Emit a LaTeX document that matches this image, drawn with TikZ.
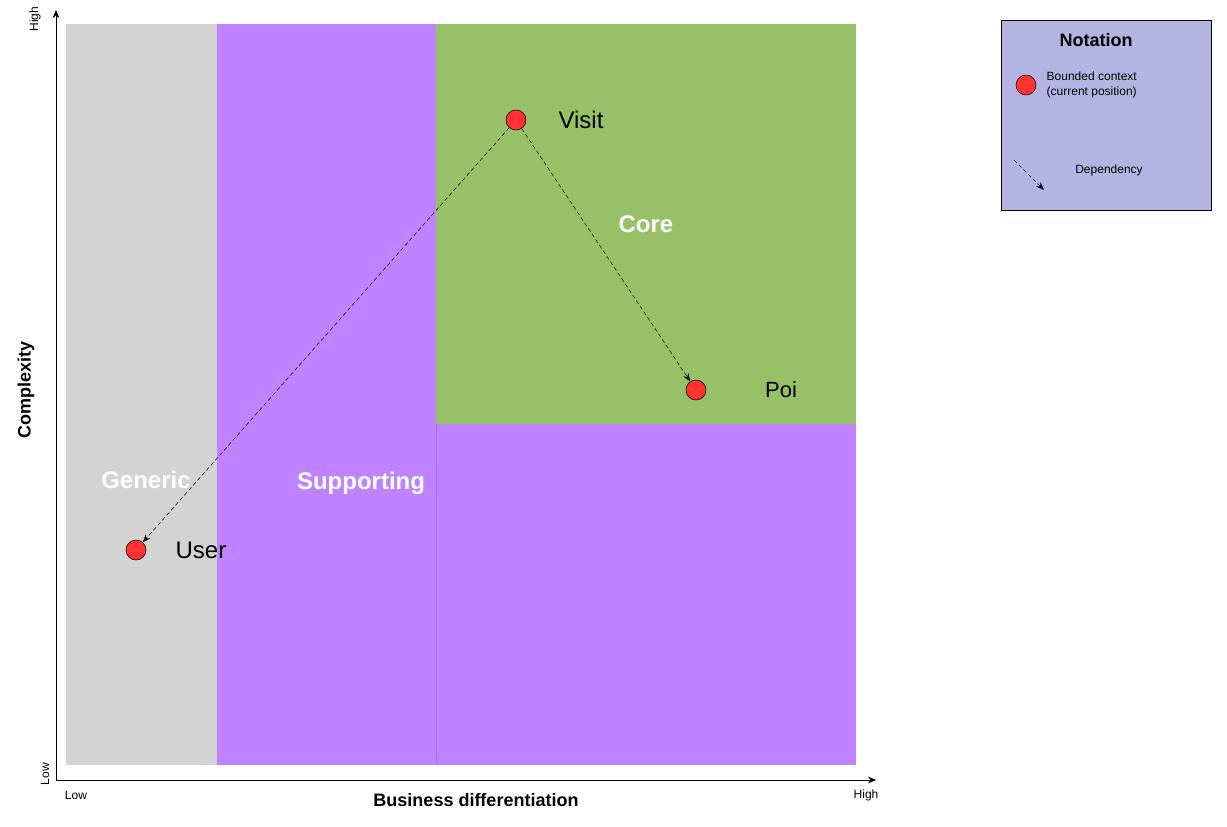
\documentclass[tikz,border=0pt]{standalone}
\usepackage{fontspec}
\setmainfont{Liberation Sans}
\usetikzlibrary{arrows.meta}
\definecolor{genericgray}{RGB}{211,211,211}
\definecolor{supportpurple}{RGB}{192,131,255}
\definecolor{supportedge}{RGB}{178,110,250}
\definecolor{coregreen}{RGB}{151,193,103}
\definecolor{notationblue}{RGB}{180,180,226}
\definecolor{contextred}{RGB}{255,51,51}
\tikzset{
  context/.style={circle, draw=black, fill=contextred, minimum size=15pt, inner sep=0pt},
  depends/.style={densely dashed, thin, -{Stealth[length=6pt,width=4.5pt]}},
  regionlabel/.style={text=white, font=\fontsize{18}{21}\selectfont\bfseries},
  ctxlabel/.style={font=\fontsize{18}{21}\selectfont},
  smalllabel/.style={font=\fontsize{9}{11}\selectfont}
}
\begin{document}
\begin{tikzpicture}[x=0.75pt,y=-0.75pt]
    \useasboundingbox (0,0) rectangle (1227,826);

    % regions
    \fill[genericgray] (66,24) rectangle (217,765);
    \fill[supportpurple] (217,24) rectangle (436,765);
    \fill[supportpurple] (436,424) rectangle (856,765);
    \fill[coregreen] (436,24) rectangle (856,424);
    \draw[supportedge, very thin] (436,424) -- (436,765);

    % axes
    \draw[thin,-{Stealth[length=6pt,width=5pt]}] (56,780) -- (56,10);
    \draw[thin,-{Stealth[length=6pt,width=5pt]}] (56,780) -- (876,780);

    \node[smalllabel, rotate=90] (yhigh) at (35,19) {High};
    \node[smalllabel, rotate=90] (ylow) at (45,774) {Low};
    \node[smalllabel] (xlow) at (76,795) {Low};
    \node[smalllabel] (xhigh) at (866,795) {High};
    \node[font=\fontsize{13.5}{16}\selectfont\bfseries] (xtitle) at (476,800) {Business differentiation};
    \node[font=\fontsize{13.5}{16}\selectfont\bfseries, rotate=90] (ytitle) at (26,390) {Complexity};

    \node[regionlabel] (generic) at (146,480) {Generic};
    \node[regionlabel] (supporting) at (361,483) {Supporting};
    \node[regionlabel] (core) at (646,224) {Core};

    % bounded contexts
    \node[context] (visit) at (516,120) {};
    \node[context] (poi) at (696,390) {};
    \node[context] (user) at (136,550) {};
    \node[ctxlabel] (visitlabel) at (581,120) {Visit};
    \node[font=\fontsize{16.5}{20}\selectfont] (poilabel) at (781,390) {Poi};
    \node[ctxlabel] (userlabel) at (201,550) {User};

    \draw[depends] (visit) -- (user);
    \draw[depends] (visit) -- (poi);

    % notation
    \draw[fill=notationblue] (1001,20) rectangle (1211,210);
    \node[font=\fontsize{13.5}{16}\selectfont\bfseries] (notation) at (1096,40) {Notation};
    \node[context] (legendctx) at (1026,85) {};
    \node[smalllabel, anchor=west, align=left] (legendctxlabel) at (1042,85) {Bounded context\\(current position)};
    \coordinate (depstart) at (1014,160);
    \coordinate (depend) at (1044,190);
    \draw[depends] (depstart) -- (depend);
    \node[smalllabel] (deplabel) at (1109,170) {Dependency};

\end{tikzpicture}
\end{document}
